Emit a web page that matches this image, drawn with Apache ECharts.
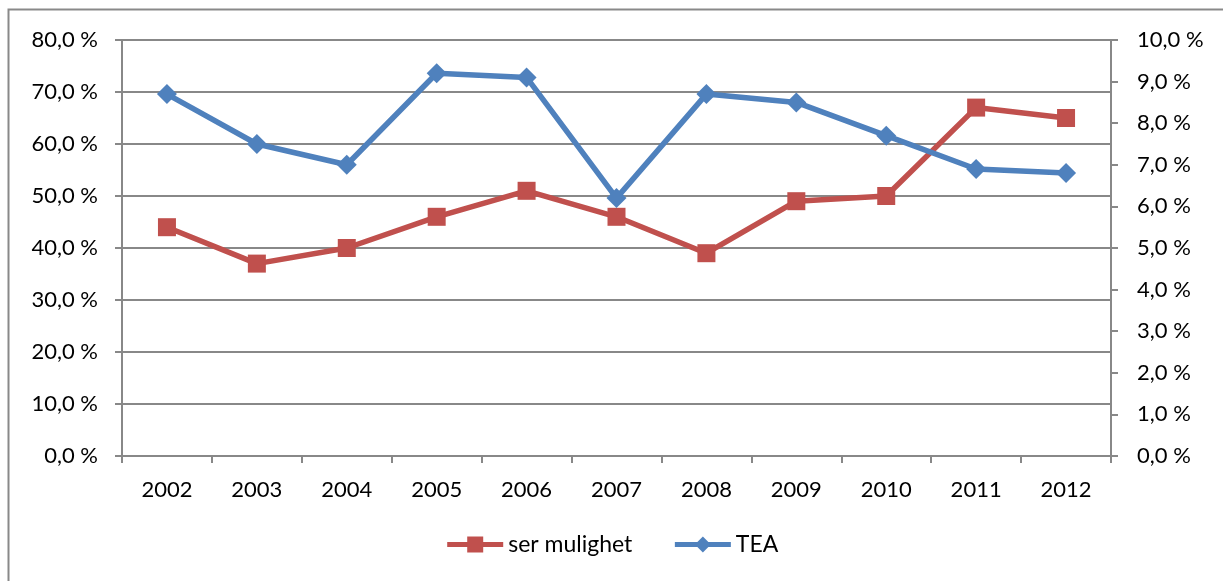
<!DOCTYPE html>
<html>
<head>
<meta charset="utf-8">
<script src="https://cdn.jsdelivr.net/npm/echarts@6/dist/echarts.min.js"></script>
<style>
  html, body { margin: 0; padding: 0; background: #fff; }
  #main { width: 1223px; height: 581px; }
</style>
</head>
<body>
<div id="main"></div>
<script>
// år
var years = ['2002','2003','2004','2005','2006','2007','2008','2009','2010','2011','2012'];
// ser mulighet (venstre akse, %)
var serMulighet = [44, 37, 40, 46, 51, 46, 39, 49, 50, 67, 65];
// TEA (høyre akse, %)
var tea = [8.7, 7.5, 7.0, 9.2, 9.1, 6.2, 8.7, 8.5, 7.7, 6.9, 6.8];

var fontFam = 'Lato, "Open Sans", sans-serif';
var fs = 22;
function pct(v) { return v.toFixed(1).replace('.', ',') + ' %'; }

var chart = echarts.init(document.getElementById('main'));
chart.setOption({
  animation: false,
  textStyle: { fontFamily: fontFam },
  graphic: [{
    type: 'rect',
    shape: { x: 8.5, y: 9.5, width: 1240, height: 620 },
    style: { fill: 'none', stroke: '#898989', lineWidth: 2 },
    silent: true
  }],
  legend: {
    bottom: 20,
    left: 'center',
    itemWidth: 56,
    itemHeight: 20,
    itemGap: 40,
    lineStyle: { width: 5 },
    textStyle: { fontSize: 23, color: '#000', fontFamily: fontFam },
    data: ['ser mulighet', 'TEA']
  },
  grid: { left: 122, right: 112, top: 40, bottom: 125 },
  xAxis: {
    type: 'category',
    data: years,
    boundaryGap: true,
    axisLine: { lineStyle: { color: '#888', width: 2 } },
    axisTick: { show: true, length: 7, interval: 0, lineStyle: { color: '#888', width: 2 } },
    axisLabel: { fontSize: fs, color: '#000', margin: 23, fontFamily: fontFam }
  },
  yAxis: [{
    type: 'value',
    min: 0, max: 80, interval: 10,
    position: 'left',
    axisLine: { show: true, lineStyle: { color: '#888', width: 2 } },
    axisTick: { show: true, length: 7, lineStyle: { color: '#888', width: 2 } },
    splitLine: { lineStyle: { color: '#888', width: 2 } },
    axisLabel: { fontSize: fs, color: '#000', margin: 24, fontFamily: fontFam, formatter: pct }
  }, {
    type: 'value',
    min: 0, max: 10, interval: 1,
    position: 'right',
    axisLine: { show: true, lineStyle: { color: '#888', width: 2 } },
    axisTick: { show: true, length: 7, lineStyle: { color: '#888', width: 2 } },
    splitLine: { show: false },
    axisLabel: { fontSize: fs, color: '#000', margin: 26, fontFamily: fontFam, formatter: pct }
  }],
  series: [{
    name: 'ser mulighet',
    type: 'line',
    yAxisIndex: 0,
    data: serMulighet,
    symbol: 'rect',
    symbolSize: 18,
    color: '#C0504D',
    lineStyle: { width: 5.5, color: '#C0504D' },
    itemStyle: { color: '#C0504D' }
  }, {
    name: 'TEA',
    type: 'line',
    yAxisIndex: 1,
    data: tea,
    symbol: 'diamond',
    symbolSize: 20,
    color: '#4F81BD',
    lineStyle: { width: 5.5, color: '#4F81BD' },
    itemStyle: { color: '#4F81BD' }
  }]
});
</script>
</body>
</html>
